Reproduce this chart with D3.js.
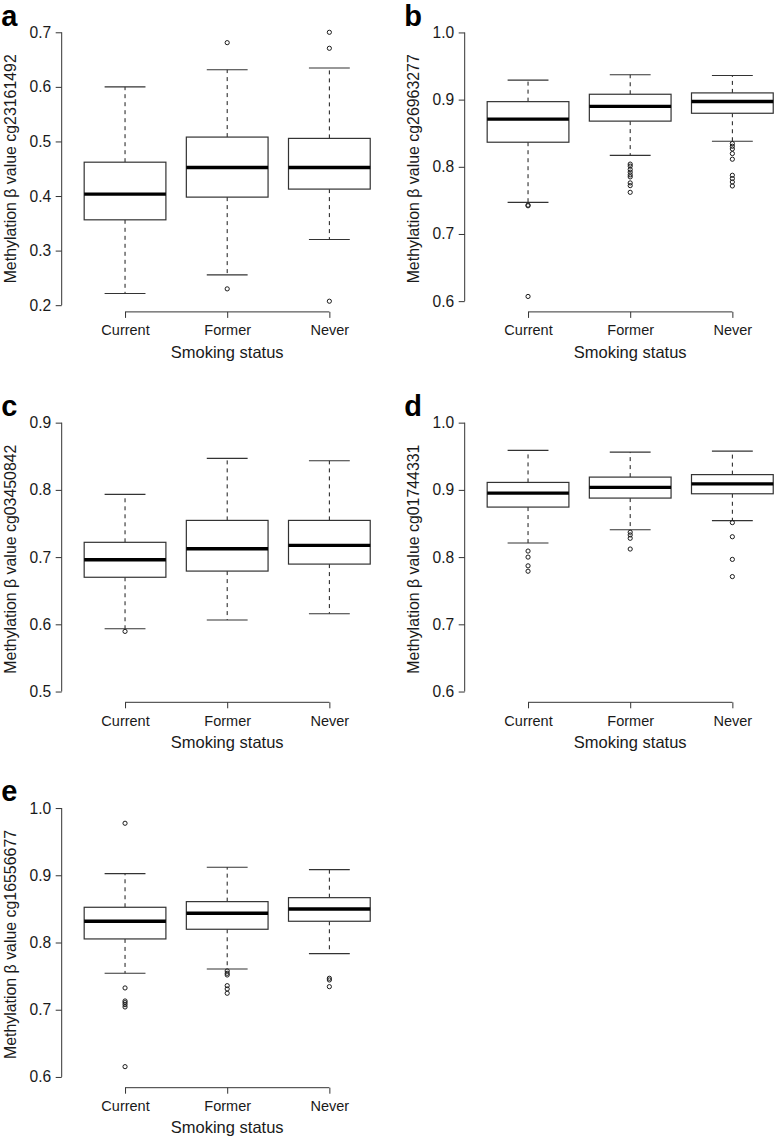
<!DOCTYPE html>
<html>
<head>
<meta charset="utf-8">
<script src="https://cdn.jsdelivr.net/npm/d3@7"></script>
<style>
  html, body { margin: 0; padding: 0; background: #fff; }
  svg { display: block; font-family: "Liberation Sans", Arial, Helvetica, sans-serif; }
</style>
</head>
<body>
<svg id="chart" width="776" height="1139"></svg>
<script>
// ---------------- data ----------------
const categories = ["Current", "Former", "Never"];
const panelLetters = ["a", "b", "c", "d", "e"];
const probeIds = ["cg23161492", "cg26963277", "cg03450842", "cg01744331", "cg16556677"];
const xTitle = "Smoking status";

// y tick values per panel
const yTicksA = [0.2, 0.3, 0.4, 0.5, 0.6, 0.7];
const yTicksB = [0.6, 0.7, 0.8, 0.9, 1.0];
const yTicksC = [0.5, 0.6, 0.7, 0.8, 0.9];
const yTicksD = [0.6, 0.7, 0.8, 0.9, 1.0];
const yTicksE = [0.6, 0.7, 0.8, 0.9, 1.0];

// y scale domains (R usr ranges)
const yDomainA = [0.1877, 0.7194];
const yDomainB = [0.584, 1.016];
const yDomainC = [0.484, 0.916];
const yDomainD = [0.584, 1.016];
const yDomainE = [0.584, 1.016];

// box stats per category: [lower whisker, Q1, median, Q3, upper whisker]
const statsA = [
  [0.2214, 0.3564, 0.4035, 0.4620, 0.6000],
  [0.2555, 0.3980, 0.4524, 0.5080, 0.6314],
  [0.3204, 0.4127, 0.4524, 0.5056, 0.6345]
];
const outliersA = [[], [0.681, 0.2299], [0.700, 0.6707, 0.2073]];

const statsB = [
  [0.747, 0.8366, 0.871, 0.897, 0.929],
  [0.817, 0.868, 0.890, 0.908, 0.937],
  [0.838, 0.8797, 0.8972, 0.910, 0.936]
];
const outliersB = [
  [0.743, 0.742, 0.607],
  [0.804, 0.801, 0.796, 0.792, 0.788, 0.785, 0.776, 0.772, 0.762],
  [0.8346, 0.8306, 0.8266, 0.8197, 0.8113, 0.7874, 0.7825, 0.7774, 0.7715]
];

const statsC = [
  [0.5934, 0.670, 0.696, 0.722, 0.7933],
  [0.6064, 0.6792, 0.7124, 0.7546, 0.8468],
  [0.6158, 0.6896, 0.7174, 0.7546, 0.8433]
];
const outliersC = [[0.5895], [], []];

const statsD = [
  [0.8209, 0.8744, 0.8952, 0.9111, 0.9587],
  [0.8407, 0.8878, 0.9037, 0.9190, 0.9562],
  [0.8543, 0.8942, 0.9090, 0.9227, 0.9577]
];
const outliersD = [
  [0.809, 0.800, 0.787, 0.779],
  [0.837, 0.833, 0.828, 0.812],
  [0.8513, 0.8303, 0.7966, 0.771]
];

const statsE = [
  [0.7542, 0.8053, 0.8316, 0.8524, 0.9025],
  [0.7606, 0.8197, 0.8435, 0.8608, 0.9120],
  [0.7834, 0.8316, 0.8499, 0.8667, 0.9084]
];
const outliersE = [
  [0.9774, 0.7324, 0.713, 0.7105, 0.7075, 0.7041, 0.6153],
  [0.7577, 0.7542, 0.7517, 0.7358, 0.7309, 0.7245],
  [0.7468, 0.7443, 0.7343]
];

// ---------------- layout ----------------
const layout = [
  { left: 61.7,  top: 21.7,  bottom: 311.9 },
  { left: 464.7, top: 21.7,  bottom: 311.9 },
  { left: 61.7,  top: 411.9, bottom: 702.3 },
  { left: 464.7, top: 411.9, bottom: 702.3 },
  { left: 61.7,  top: 797.3, bottom: 1087.7 }
];
const plotWidth = 331;
const xUsr = [0.38, 3.62];

const panels = [
  { stats: statsA, outliers: outliersA, ticks: yTicksA, domain: yDomainA },
  { stats: statsB, outliers: outliersB, ticks: yTicksB, domain: yDomainB },
  { stats: statsC, outliers: outliersC, ticks: yTicksC, domain: yDomainC },
  { stats: statsD, outliers: outliersD, ticks: yTicksD, domain: yDomainD },
  { stats: statsE, outliers: outliersE, ticks: yTicksE, domain: yDomainE }
];

const ink = "#1a1a1a";
const lineCol = "#333";
const svg = d3.select("#chart");
svg.append("rect").attr("width", 776).attr("height", 1139).attr("fill", "#fff");

panels.forEach((p, i) => {
  const L = layout[i];
  const g = svg.append("g");
  const y = d3.scaleLinear().domain(p.domain).range([L.bottom, L.top]);
  const xPos = d3.scaleLinear().domain(xUsr).range([L.left, L.left + plotWidth]);
  const x = d => xPos(categories.indexOf(d) + 1);
  const step = xPos(2) - xPos(1);
  const boxW = 0.8 * step;
  const capW = boxW / 2;

  // y axis
  const yAxis = d3.axisLeft(y).tickValues(p.ticks).tickFormat(d3.format(".1f"))
    .tickSizeInner(6).tickSizeOuter(0).tickPadding(4.5);
  const ya = g.append("g").attr("transform", `translate(${L.left},0)`).call(yAxis);
  ya.select(".domain").remove();
  ya.append("line")
    .attr("x1", 0).attr("x2", 0)
    .attr("y1", y(d3.min(p.ticks))).attr("y2", y(d3.max(p.ticks)))
    .attr("stroke", lineCol).attr("stroke-width", 1);
  ya.selectAll(".tick line").attr("stroke", lineCol).attr("stroke-width", 1);
  ya.selectAll(".tick text").attr("fill", ink).attr("font-size", 15.6)
    .attr("font-family", "'Liberation Sans', Arial, sans-serif");

  // x axis
  const xScaleBand = d3.scaleOrdinal().domain(categories).range(categories.map(c => x(c)));
  const xAxis = d3.axisBottom(xScaleBand).tickSizeInner(6).tickSizeOuter(0).tickPadding(7);
  const xa = g.append("g").attr("transform", `translate(0,${L.bottom})`).call(xAxis);
  xa.select(".domain").remove();
  xa.append("line")
    .attr("x1", x(categories[0])).attr("x2", x(categories[categories.length - 1]))
    .attr("y1", 0).attr("y2", 0)
    .attr("stroke", lineCol).attr("stroke-width", 1);
  xa.selectAll(".tick line").attr("stroke", lineCol).attr("stroke-width", 1);
  xa.selectAll(".tick text").attr("fill", ink).attr("font-size", 14.5)
    .attr("font-family", "'Liberation Sans', Arial, sans-serif")
    .attr("dy", null).attr("y", 23.3).attr("dominant-baseline", "auto");

  // boxes
  categories.forEach((c, ci) => {
    const s = p.stats[ci];
    const cx = x(c);
    const bg = g.append("g");
    // whiskers dashed
    bg.append("line").attr("x1", cx).attr("x2", cx).attr("y1", y(s[3])).attr("y2", y(s[4]))
      .attr("stroke", ink).attr("stroke-width", 1).attr("stroke-dasharray", "4,4");
    bg.append("line").attr("x1", cx).attr("x2", cx).attr("y1", y(s[1])).attr("y2", y(s[0]))
      .attr("stroke", ink).attr("stroke-width", 1).attr("stroke-dasharray", "4,4");
    // caps
    [s[0], s[4]].forEach(v => {
      bg.append("line").attr("x1", cx - capW / 2).attr("x2", cx + capW / 2)
        .attr("y1", y(v)).attr("y2", y(v))
        .attr("stroke", lineCol).attr("stroke-width", 1.1);
    });
    // box
    bg.append("rect").attr("x", cx - boxW / 2).attr("y", y(s[3]))
      .attr("width", boxW).attr("height", y(s[1]) - y(s[3]))
      .attr("fill", "#fff").attr("stroke", lineCol).attr("stroke-width", 1.2);
    // median
    bg.append("line").attr("x1", cx - boxW / 2).attr("x2", cx + boxW / 2)
      .attr("y1", y(s[2])).attr("y2", y(s[2]))
      .attr("stroke", "#000").attr("stroke-width", 3.4);
    // outliers
    bg.selectAll("circle.o").data(p.outliers[ci]).enter().append("circle")
      .attr("class", "o").attr("cx", cx).attr("cy", d => y(d)).attr("r", 2.1)
      .attr("fill", "none").attr("stroke", ink).attr("stroke-width", 1);
  });

  // axis titles
  g.append("text")
    .attr("transform", `translate(${L.left - 45.7},${(L.top + L.bottom) / 2 + 2}) rotate(-90)`)
    .attr("text-anchor", "middle").attr("font-size", 15.9).attr("fill", ink)
    .text(`Methylation β value ${probeIds[i]}`);
  g.append("text")
    .attr("x", L.left + plotWidth / 2).attr("y", L.bottom + 45.6)
    .attr("text-anchor", "middle").attr("font-size", 16.5).attr("fill", ink)
    .text(xTitle);

  // panel letter
  g.append("text")
    .attr("x", L.left - 60.5).attr("y", L.top + 4)
    .attr("font-size", 29).attr("font-weight", "bold").attr("fill", "#000")
    .text(panelLetters[i]);
});
</script>
</body>
</html>
